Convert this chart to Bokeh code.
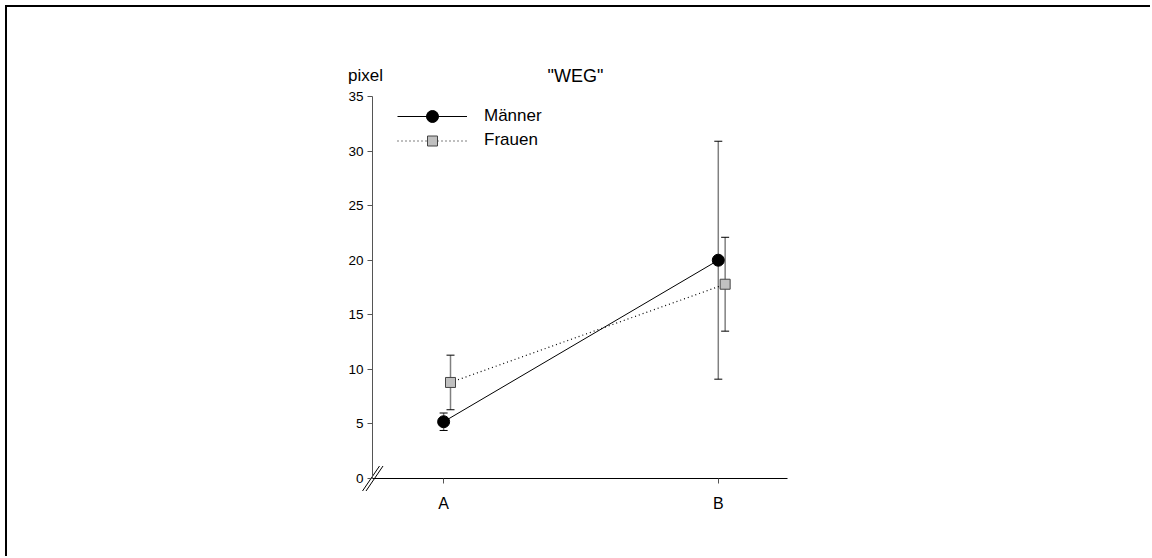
from bokeh.plotting import figure
from bokeh.models import (ColumnDataSource, Whisker, TeeHead, Legend, LegendItem,
                          FixedTicker, Label, Range1d)
from bokeh.embed import file_html
from bokeh.resources import INLINE

# Data
categories = ["A", "B"]
positions = [1, 2]
maenner_mean = [5.2, 20.0]
maenner_upper = [6.0, 30.9]
maenner_lower = [4.4, 9.1]
frauen_mean = [8.8, 17.8]
frauen_upper = [11.3, 22.1]
frauen_lower = [6.3, 13.5]
y_ticks = [0, 5, 10, 15, 20, 25, 30, 35]

FONT = "Liberation Sans"

# axis extents in data units
AX_X0, AX_X1 = 0.741, 2.252
AX_Y0, AX_Y1 = 0, 35
DODGE = 0.025

# page layout (px): frame box and scale, so the axes sit inside a larger frame
ORIGIN = 7                      # canvas offset caused by the page border
FL, FR, FT, FB = 330, 800, 60, 525
AX_LEFT_PX, AX_BOTTOM_PX = 372, 478
SX = (787 - 372) / (AX_X1 - AX_X0)   # px per x unit
SY = (478 - 96) / (AX_Y1 - AX_Y0)    # px per y unit

x_range = Range1d(AX_X0 - (AX_LEFT_PX - FL) / SX, AX_X0 + (FR - AX_LEFT_PX) / SX)
y_range = Range1d(AX_Y0 - (FB - AX_BOTTOM_PX) / SY, AX_Y0 + (AX_BOTTOM_PX - FT) / SY)

p = figure(width=1152 - ORIGIN, height=558 - ORIGIN, x_range=x_range, y_range=y_range,
           output_backend="svg", toolbar_location=None,
           min_border_left=FL - ORIGIN, min_border_right=1152 - FR,
           min_border_top=FT - ORIGIN, min_border_bottom=558 - FB,
           styles={"margin-left": "5px", "margin-top": "5px",
                   "border-top": "2px solid black",
                   "border-left": "2px solid black"})
p.outline_line_color = None
p.grid.visible = False

# axes placed at the origin, inside the frame
p.yaxis.fixed_location = AX_X0
p.yaxis.bounds = (AX_Y0, AX_Y1)
p.yaxis.ticker = FixedTicker(ticks=y_ticks)
p.yaxis.axis_line_color = "#555555"
p.yaxis.major_tick_line_color = "#555555"
p.yaxis.major_tick_out = 5
p.yaxis.major_tick_in = 0
p.yaxis.minor_tick_line_color = None
p.yaxis.major_label_text_font = FONT
p.yaxis.major_label_text_font_size = "13.5px"
p.yaxis.major_label_text_color = "black"
p.yaxis.major_label_standoff = 4

p.xaxis.fixed_location = AX_Y0
p.xaxis.bounds = (AX_X0, AX_X1)
p.xaxis.ticker = FixedTicker(ticks=positions)
p.xaxis.major_label_overrides = {pos: c for pos, c in zip(positions, categories)}
p.xaxis.axis_line_color = "black"
p.xaxis.major_tick_line_color = "#555555"
p.xaxis.major_tick_out = 5
p.xaxis.major_tick_in = 0
p.xaxis.minor_tick_line_color = None
p.xaxis.major_label_text_font = FONT
p.xaxis.major_label_text_font_size = "16px"
p.xaxis.major_label_text_color = "black"
p.xaxis.major_label_standoff = 11

m_src = ColumnDataSource(dict(x=positions, y=maenner_mean,
                              upper=maenner_upper, lower=maenner_lower))
f_src = ColumnDataSource(dict(x=[v + DODGE for v in positions], y=frauen_mean,
                              upper=frauen_upper, lower=frauen_lower))

for src in (m_src, f_src):
    w = Whisker(source=src, base="x", upper="upper", lower="lower",
                dimension="height", line_color="#808080", line_width=1.5,
                upper_head=TeeHead(size=8, line_color="black", line_width=1),
                lower_head=TeeHead(size=8, line_color="black", line_width=1),
                level="underlay")
    p.add_layout(w)

m_line = p.line("x", "y", source=m_src, line_color="black", line_width=1)
f_line = p.line("x", "y", source=f_src, line_color="black", line_width=1.2,
                line_dash="1 3")
m_pts = p.scatter("x", "y", source=m_src, marker="circle", size=12,
                  fill_color="black", line_color="black")
f_pts = p.scatter("x", "y", source=f_src, marker="square", size=10,
                  fill_color="#c0c0c0", line_color="#444444")

# one legend box per series so each row can be placed on its own
legend_rows = [("Männer", [m_line, m_pts], 30, 116),
               ("Frauen", [f_line, f_pts], 25, 140)]
for text, rends, gh, cy in legend_rows:
    lg = Legend(items=[LegendItem(label=text, renderers=rends)],
                location=(397 - FL, FB - (cy + gh / 2)),
                glyph_width=70, glyph_height=gh, padding=0, margin=0,
                label_standoff=17, label_text_font=FONT,
                label_text_font_size="17px", label_text_color="black",
                label_height=gh, border_line_color=None, background_fill_alpha=0)
    p.add_layout(lg)

# title and unit label above the plot area
label_y = AX_Y0 + (AX_BOTTOM_PX - 75) / SY
p.add_layout(Label(x=AX_X0 + (575 - AX_LEFT_PX) / SX, y=label_y, text='"WEG"',
                   text_font=FONT, text_font_size="18px", text_color="black",
                   text_align="center", text_baseline="middle"))
p.add_layout(Label(x=AX_X0 + (365 - AX_LEFT_PX) / SX, y=label_y, text="pixel",
                   text_font=FONT, text_font_size="17px", text_color="black",
                   text_align="center", text_baseline="middle"))

# axis break marks at the origin
for off in (-1.5, 2.0):
    p.segment(x0=AX_X0 + (off - 8.5) / SX, y0=AX_Y0 - 12.5 / SY,
              x1=AX_X0 + (off + 8.5) / SX, y1=AX_Y0 + 12.5 / SY,
              line_color="black", line_width=1)

open("out.html", "w").write(file_html(p, INLINE))
